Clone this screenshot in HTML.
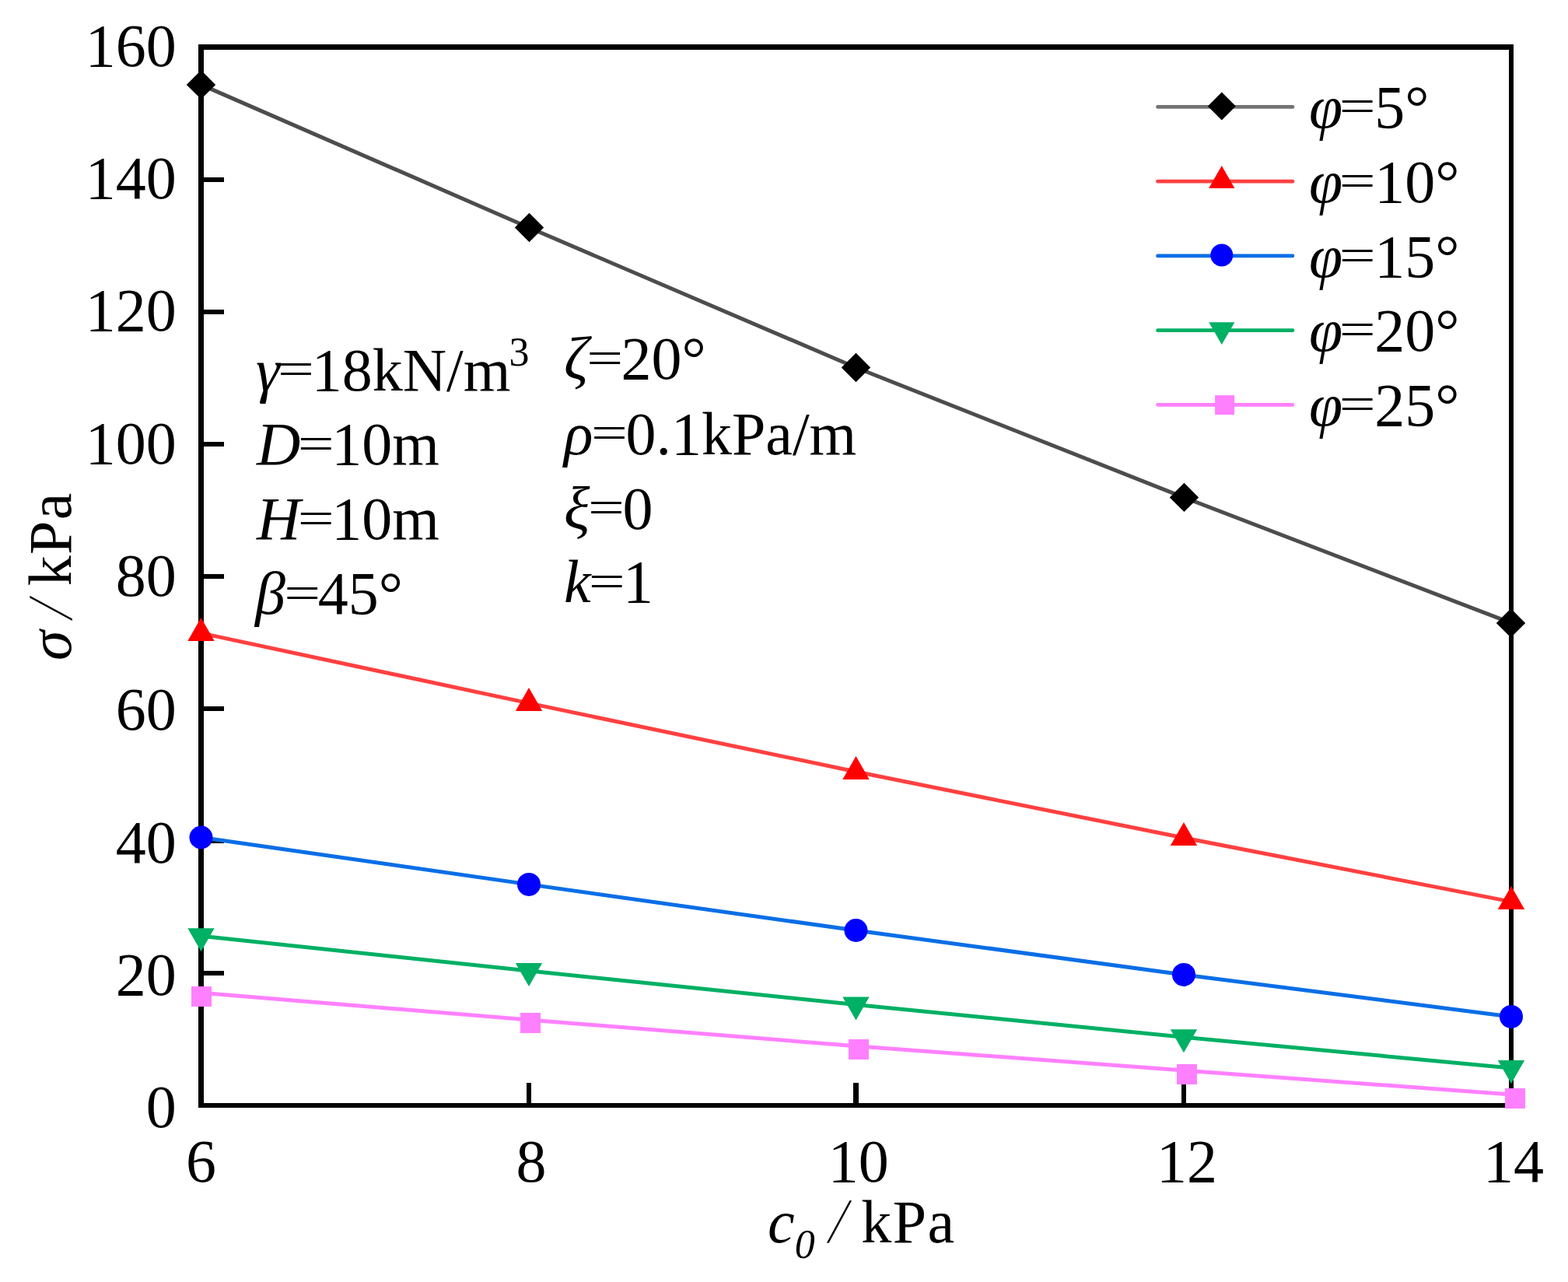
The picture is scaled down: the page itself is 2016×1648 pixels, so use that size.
<!DOCTYPE html>
<html lang="en"><head><meta charset="utf-8"><title>σ vs c0 chart</title>
<style>
html,body{margin:0;padding:0;background:#fff;}
body{width:2016px;height:1648px;overflow:hidden;}
svg{display:block;}
text{font-family:"Liberation Serif","Times New Roman",serif;fill:#000;}
.i{font-style:italic;}
</style></head><body>
<svg width="2016" height="1648" viewBox="0 0 2016 1648">
<rect x="0" y="0" width="2016" height="1648" fill="#ffffff"/>
<g fill="#000" shape-rendering="crispEdges">
<rect x="255" y="57" width="7" height="1367"/>
<rect x="1940" y="57" width="6" height="1367"/>
<rect x="255" y="57" width="1691" height="7"/>
<rect x="255" y="1418" width="1691" height="6"/>
<rect x="262" y="1248" width="26" height="6"/>
<rect x="262" y="1078" width="26" height="6"/>
<rect x="262" y="908" width="26" height="6"/>
<rect x="262" y="738" width="26" height="6"/>
<rect x="262" y="568" width="26" height="6"/>
<rect x="262" y="398" width="26" height="6"/>
<rect x="262" y="228" width="26" height="6"/>
<rect x="677" y="1392" width="6" height="26"/>
<rect x="1097" y="1392" width="7" height="26"/>
<rect x="1519" y="1392" width="6" height="26"/>
</g>
<polyline points="258.5,108.9 680.0,292.5 1100.5,472.5 1522.0,639.4 1943.0,800.9" fill="none" stroke="#4d4d4d" stroke-width="5.0" stroke-linejoin="round"/>
<polygon points="239.8,108.9 258.5,90.2 277.2,108.9 258.5,127.6" fill="#000000"/>
<polygon points="661.8,292.5 680.5,273.8 699.2,292.5 680.5,311.2" fill="#000000"/>
<polygon points="1081.8,472.5 1100.5,453.8 1119.2,472.5 1100.5,491.2" fill="#000000"/>
<polygon points="1503.8,639.4 1522.5,620.7 1541.2,639.4 1522.5,658.1" fill="#000000"/>
<polygon points="1923.8,800.9 1942.5,782.2 1961.2,800.9 1942.5,819.6" fill="#000000"/>
<polyline points="258.5,813.9 680.0,903.9 1100.5,992.0 1522.0,1077.0 1943.0,1159.1" fill="none" stroke="#ff4040" stroke-width="5.0" stroke-linejoin="round"/>
<polygon points="241.3,823.9 275.7,823.9 258.5,793.9" fill="#ff0000"/>
<polygon points="662.8,913.9 697.2,913.9 680.0,883.9" fill="#ff0000"/>
<polygon points="1083.3,1002.0 1117.7,1002.0 1100.5,972.0" fill="#ff0000"/>
<polygon points="1504.8,1087.0 1539.2,1087.0 1522.0,1057.0" fill="#ff0000"/>
<polygon points="1925.8,1169.1 1960.2,1169.1 1943.0,1139.1" fill="#ff0000"/>
<polyline points="258.5,1076.5 680.0,1136.9 1100.5,1196.0 1522.0,1252.9 1943.0,1306.9" fill="none" stroke="#0a6ee6" stroke-width="5.0" stroke-linejoin="round"/>
<circle cx="258.5" cy="1076.5" r="15.0" fill="#0000ff"/>
<circle cx="680.0" cy="1136.9" r="15.0" fill="#0000ff"/>
<circle cx="1100.5" cy="1196.0" r="15.0" fill="#0000ff"/>
<circle cx="1522.0" cy="1252.9" r="15.0" fill="#0000ff"/>
<circle cx="1943.0" cy="1306.9" r="15.0" fill="#0000ff"/>
<polyline points="258.5,1203.2 680.0,1248.0 1100.5,1291.5 1522.0,1333.2 1943.0,1373.0" fill="none" stroke="#00b064" stroke-width="5.0" stroke-linejoin="round"/>
<polygon points="241.3,1193.2 275.7,1193.2 258.5,1223.2" fill="#00b064"/>
<polygon points="662.8,1238.0 697.2,1238.0 680.0,1268.0" fill="#00b064"/>
<polygon points="1083.3,1281.5 1117.7,1281.5 1100.5,1311.5" fill="#00b064"/>
<polygon points="1504.8,1323.2 1539.2,1323.2 1522.0,1353.2" fill="#00b064"/>
<polygon points="1925.8,1363.0 1960.2,1363.0 1943.0,1393.0" fill="#00b064"/>
<polyline points="258.5,1276.3 680.0,1311.0 1100.5,1344.7 1522.0,1376.0 1943.0,1407.0" fill="none" stroke="#ff80ff" stroke-width="5.0" stroke-linejoin="round"/>
<rect x="246.0" y="1268.0" width="26.0" height="26.0" fill="#ff80ff"/>
<rect x="669.0" y="1302.0" width="26.0" height="26.0" fill="#ff80ff"/>
<rect x="1091.0" y="1336.0" width="26.0" height="26.0" fill="#ff80ff"/>
<rect x="1513.0" y="1368.0" width="26.0" height="26.0" fill="#ff80ff"/>
<rect x="1935.0" y="1399.0" width="26.0" height="26.0" fill="#ff80ff"/>
<text x="226.8" y="1449.3" font-size="78" text-anchor="end">0</text>
<text x="226.8" y="1278.9" font-size="78" text-anchor="end">20</text>
<text x="226.8" y="1109.0" font-size="78" text-anchor="end">40</text>
<text x="226.8" y="937.6" font-size="78" text-anchor="end">60</text>
<text x="226.8" y="766.4" font-size="78" text-anchor="end">80</text>
<text x="226.8" y="595.5" font-size="78" text-anchor="end">100</text>
<text x="226.8" y="424.9" font-size="78" text-anchor="end">120</text>
<text x="226.8" y="255.3" font-size="78" text-anchor="end">140</text>
<text x="226.8" y="84.6" font-size="78" text-anchor="end">160</text>
<text x="258.6" y="1519" font-size="78" text-anchor="middle">6</text>
<text x="683.0" y="1519" font-size="78" text-anchor="middle">8</text>
<text x="1103.75" y="1519" font-size="78" text-anchor="middle">10</text>
<text x="1525.9" y="1519" font-size="78" text-anchor="middle">12</text>
<text x="1946.0" y="1519" font-size="78" text-anchor="middle">14</text>
<g>
<text x="987" y="1596.7" font-size="78" class="i">c<tspan font-size="52" dy="20">0</tspan> </text>
<text x="1067.50" y="1596.7" font-size="78" class="i" transform="matrix(0.675 0 -0.214 1.044 686.631 -70.088)">/</text>
<text x="1107.3" y="1596.7" font-size="78" letter-spacing="1.4"> kPa</text>
</g>
<g transform="translate(91.4,849) rotate(-90)">
<text x="0" y="0" font-size="78" class="i">σ </text>
<text x="54.57" y="0" font-size="78" class="i" transform="matrix(0.675 0 -0.214 1.044 16.735 0.166)">/</text>
<text x="95.7" y="0" font-size="78" letter-spacing="1.35"> kPa</text>
</g>
<g><text x="329" y="501.5" font-size="78" class="i">γ</text><text x="356.74" y="501.5" font-size="78" transform="matrix(1.067 0 0 0.78 -23.575 104.044)">=</text>
<text x="400.73" y="501.5" font-size="78">18kN/m<tspan font-size="52" dx="-2" dy="-32">3</tspan></text></g>
<g><text x="330" y="597.3" font-size="78" class="i">D</text><text x="382.33" y="597.3" font-size="78" transform="matrix(1.067 0 0 0.78 -25.290 125.120)">=</text>
<text x="426.32" y="597.3" font-size="78">10m</text></g>
<g><text x="330" y="693.4" font-size="78" class="i">H</text><text x="382.33" y="693.4" font-size="78" transform="matrix(1.067 0 0 0.78 -25.290 146.262)">=</text>
<text x="426.32" y="693.4" font-size="78">10m</text></g>
<g><text x="328" y="789.0" font-size="78" class="i">β</text><text x="364.85" y="789.0" font-size="78" transform="matrix(1.067 0 0 0.78 -24.118 167.294)">=</text>
<text x="408.84" y="789.0" font-size="78">45°</text></g>
<g><text x="725" y="487.0" font-size="78" class="i">ζ</text><text x="754.57" y="487.0" font-size="78" transform="matrix(1.067 0 0 0.78 -50.930 100.654)">=</text>
<text x="798.56" y="487.0" font-size="78">20°</text></g>
<g><text x="725" y="583.8" font-size="78" class="i">ρ</text><text x="760.44" y="583.8" font-size="78" transform="matrix(1.067 0 0 0.78 -51.323 121.950)">=</text>
<text x="804.43" y="583.8" font-size="78">0.1kPa/m</text></g>
<g><text x="725" y="679.6" font-size="78" class="i">ξ</text><text x="756.40" y="679.6" font-size="78" transform="matrix(1.067 0 0 0.78 -51.053 143.026)">=</text>
<text x="800.39" y="679.6" font-size="78">0</text></g>
<g><text x="725" y="774.2" font-size="78" class="i">k</text><text x="757.12" y="774.2" font-size="78" transform="matrix(1.067 0 0 0.78 -51.101 163.838)">=</text>
<text x="801.11" y="774.2" font-size="78">1</text></g>
<line x1="1488.5" y1="137.40" x2="1662" y2="137.40" stroke="#737373" stroke-width="4.6" stroke-linecap="round"/>
<polygon points="1552.8,136.6 1570.8,118.6 1588.8,136.6 1570.8,154.6" fill="#000000"/>
<g><text x="1683" y="164.0" font-size="78" class="i">φ</text><text x="1723.15" y="164.0" font-size="78" transform="matrix(1.067 0 0 0.78 -116.925 29.194)">=</text>
<text x="1767.14" y="164.0" font-size="78">5°</text></g>
<line x1="1488.5" y1="233.15" x2="1662" y2="233.15" stroke="#ff4040" stroke-width="4.6" stroke-linecap="round"/>
<polygon points="1554.2,242.0 1587.4,242.0 1570.8,213.0" fill="#ff0000"/>
<g><text x="1683" y="259.8" font-size="78" class="i">φ</text><text x="1723.15" y="259.8" font-size="78" transform="matrix(1.067 0 0 0.78 -116.925 50.270)">=</text>
<text x="1767.14" y="259.8" font-size="78">10°</text></g>
<line x1="1488.5" y1="328.90" x2="1662" y2="328.90" stroke="#0a6ee6" stroke-width="4.6" stroke-linecap="round"/>
<circle cx="1570.8" cy="328.1" r="14.5" fill="#0000ff"/>
<g><text x="1683" y="355.5" font-size="78" class="i">φ</text><text x="1723.15" y="355.5" font-size="78" transform="matrix(1.067 0 0 0.78 -116.925 71.324)">=</text>
<text x="1767.14" y="355.5" font-size="78">15°</text></g>
<line x1="1488.5" y1="424.65" x2="1662" y2="424.65" stroke="#00b064" stroke-width="4.6" stroke-linecap="round"/>
<polygon points="1554.2,414.2 1587.4,414.2 1570.8,443.1" fill="#00b064"/>
<g><text x="1683" y="451.2" font-size="78" class="i">φ</text><text x="1723.15" y="451.2" font-size="78" transform="matrix(1.067 0 0 0.78 -116.925 92.378)">=</text>
<text x="1767.14" y="451.2" font-size="78">20°</text></g>
<line x1="1488.5" y1="520.40" x2="1662" y2="520.40" stroke="#ff80ff" stroke-width="4.6" stroke-linecap="round"/>
<rect x="1562.1" y="508.1" width="25.0" height="25.0" fill="#ff80ff"/>
<g><text x="1683" y="547.0" font-size="78" class="i">φ</text><text x="1723.15" y="547.0" font-size="78" transform="matrix(1.067 0 0 0.78 -116.925 113.454)">=</text>
<text x="1767.14" y="547.0" font-size="78">25°</text></g>
</svg>
</body></html>
